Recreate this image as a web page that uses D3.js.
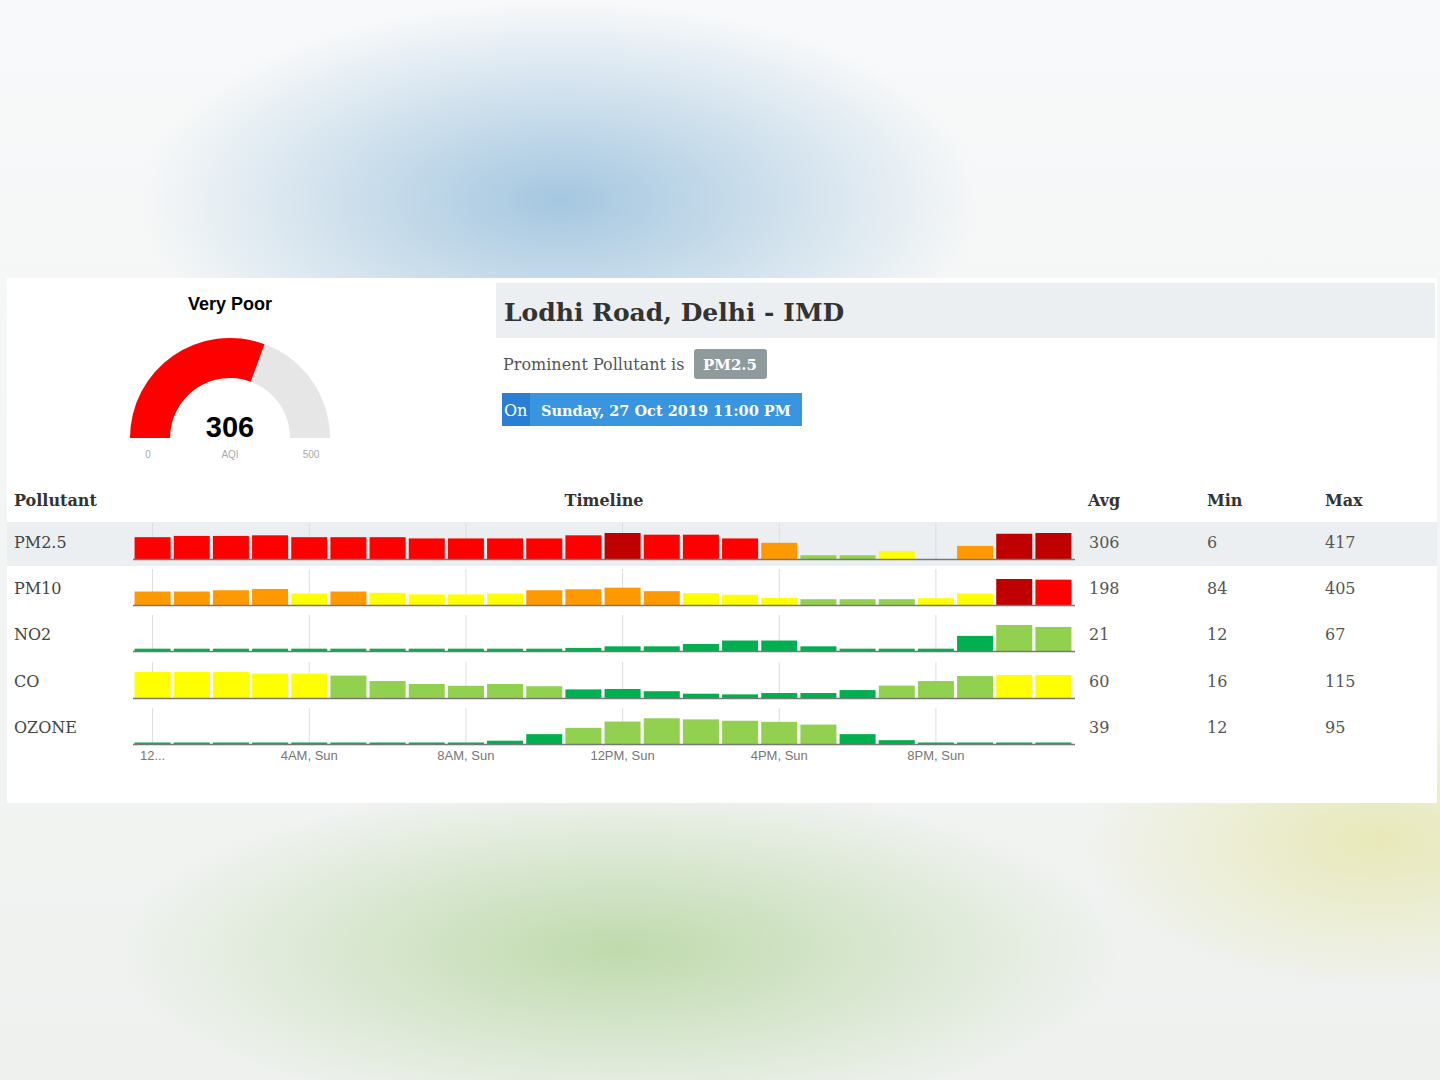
<!DOCTYPE html>
<html><head><meta charset="utf-8">
<script src="https://cdn.jsdelivr.net/npm/d3@7"></script>
<style>
body{margin:0;width:1440px;height:1080px;overflow:hidden;
background:
 radial-gradient(ellipse 420px 200px at 560px 200px, rgba(150,190,220,0.85), rgba(255,255,255,0) 100%),
 radial-gradient(ellipse 500px 170px at 620px 950px, rgba(175,210,150,0.75), rgba(255,255,255,0) 100%),
 radial-gradient(ellipse 300px 150px at 1380px 840px, rgba(230,230,170,0.8), rgba(255,255,255,0) 100%),
 linear-gradient(#f8f9fa,#eef1ee);}
</style></head>
<body><svg id="chart" width="1440" height="1080"></svg>
<script>
(function () {
    'use strict';
    var hours = d3.range(24);
    var tickHours = [0, 4, 8, 12, 16, 20];
    var tickLabels = ['12...', '4AM, Sun', '8AM, Sun', '12PM, Sun', '4PM, Sun', '8PM, Sun'];
    var pollutants = ['PM2.5', 'PM10', 'NO2', 'CO', 'OZONE'];
    var avgVals = [306, 198, 21, 60, 39];
    var minVals = [6, 84, 12, 16, 12];
    var maxVals = [417, 405, 67, 115, 95];
    var pm25 = [350, 370, 370, 380, 350, 350, 350, 330, 330, 330, 330, 380, 417, 390, 390, 330, 260, 60, 60, 130, 0, 210, 405, 417];
    var pm10 = [210, 210, 230, 250, 180, 210, 190, 165, 165, 180, 230, 245, 270, 215, 185, 160, 110, 90, 90, 90, 105, 180, 405, 395];
    var no2 = [6, 6, 6, 6, 6, 6, 6, 6, 6, 6, 6, 8, 12, 12, 18, 27, 27, 12, 6, 6, 6, 39, 67, 62];
    var co = [115, 115, 115, 108, 108, 99, 75, 62, 54, 62, 52, 38, 40, 30, 19, 16, 22, 22, 35, 55, 75, 97, 102, 102];
    var ozone = [5, 5, 5, 5, 5, 5, 5, 5, 5, 12, 36, 59, 82, 94, 90, 85, 81, 71, 36, 14, 5, 5, 5, 5];
    var series = [pm25, pm10, no2, co, ozone];
    var aqi = 306, aqiMax = 500, aqiStatus = 'Very Poor';

    var catLimits = [50, 100, 200, 300, 400];
    var catColors = ['#00b050', '#92d050', '#ffff00', '#ff9900', '#ff0000', '#c00000'];
    var colorOf = d3.scaleThreshold().domain(catLimits.map(function (d) { return d + 0.5; })).range(catColors);

    var svg = d3.select('#chart');
    var serif = 'font-family: "DejaVu Serif", "Liberation Serif", serif;';
    var sans = 'font-family: "Liberation Sans", Arial, sans-serif;';

    svg.append('rect').attr('x', 7).attr('y', 278).attr('width', 1430).attr('height', 525).attr('fill', '#fff');
    svg.append('rect').attr('x', 7).attr('y', 522).attr('width', 1430).attr('height', 44).attr('fill', '#eceff1');

    //gauge
    var gx = 230, gy = 438;
    var ang = d3.scaleLinear().domain([0, aqiMax]).range([-Math.PI / 2, Math.PI / 2]);
    var arc = d3.arc().innerRadius(60).outerRadius(100);
    svg.append('path').attr('transform', 'translate(' + gx + ',' + gy + ')')
        .attr('d', arc({startAngle: ang(0), endAngle: ang(aqiMax)})).attr('fill', '#e6e6e6');
    svg.append('path').attr('transform', 'translate(' + gx + ',' + gy + ')')
        .attr('d', arc({startAngle: ang(0), endAngle: ang(aqi)})).attr('fill', '#ff0000');
    svg.append('text').attr('x', gx).attr('y', 310).text(aqiStatus)
        .attr('style', sans + 'font-size: 18px; font-weight: bold; text-anchor: middle');
    svg.append('text').attr('x', gx).attr('y', 437).text(aqi)
        .attr('style', sans + 'font-size: 29px; font-weight: bold; text-anchor: middle');
    [[148, '0'], [230, 'AQI'], [311, '500']].forEach(function (l) {
        svg.append('text').attr('x', l[0]).attr('y', 458).text(l[1])
            .attr('style', sans + 'font-size: 10px; fill: #aaa; text-anchor: middle');
    });

    //header
    svg.append('rect').attr('x', 496).attr('y', 283).attr('width', 939).attr('height', 55).attr('fill', '#eceff1');
    svg.append('text').attr('x', 504).attr('y', 321).text('Lodhi Road, Delhi - IMD')
        .attr('style', serif + 'font-size: 25px; font-weight: bold; fill: #333');
    svg.append('text').attr('x', 503).attr('y', 370).text('Prominent Pollutant is')
        .attr('style', serif + 'font-size: 16px; fill: #555');
    svg.append('rect').attr('x', 694).attr('y', 349).attr('width', 73).attr('height', 30).attr('rx', 3).attr('fill', '#8f9a9c');
    svg.append('text').attr('x', 730).attr('y', 370).text('PM2.5')
        .attr('style', serif + 'font-size: 15px; font-weight: bold; fill: #fff; text-anchor: middle');
    svg.append('rect').attr('x', 502).attr('y', 393).attr('width', 300).attr('height', 33).attr('fill', '#3a95e0');
    svg.append('rect').attr('x', 502).attr('y', 393).attr('width', 28).attr('height', 33).attr('fill', '#2a7fd4');
    svg.append('text').attr('x', 504).attr('y', 416).text('On')
        .attr('style', serif + 'font-size: 16px; fill: #fff');
    svg.append('text').attr('x', 541).attr('y', 416).text('Sunday, 27 Oct 2019 11:00 PM')
        .attr('style', serif + 'font-size: 14.5px; font-weight: bold; fill: #fff');

    //table headers
    [[14, 'Pollutant', 'start'], [604, 'Timeline', 'middle'], [1088, 'Avg', 'start'], [1207, 'Min', 'start'], [1325, 'Max', 'start']].forEach(function (h) {
        svg.append('text').attr('x', h[0]).attr('y', 506).text(h[1])
            .attr('style', serif + 'font-size: 16px; font-weight: bold; fill: #333; text-anchor: ' + h[2]);
    });

    var x = d3.scaleBand().domain(hours).range([133, 1073]).paddingInner(0.08).paddingOuter(0.04);
    var baselines = [559, 605, 651, 698, 744];
    var barH = 26;

    series.forEach(function (vals, r) {
        var base = baselines[r];
        var y = d3.scaleLinear().domain([0, maxVals[r]]).range([base, base - barH]);
        var g = svg.append('g');
        tickHours.forEach(function (t) {
            g.append('line').attr('x1', x(t) + x.bandwidth() / 2).attr('x2', x(t) + x.bandwidth() / 2)
                .attr('y1', base - 36).attr('y2', base).attr('stroke', '#ddd');
        });
        g.selectAll('rect.bar').data(vals).enter().append('rect')
            .attr('x', function (d, i) { return x(i); })
            .attr('width', x.bandwidth())
            .attr('y', function (d) { return Math.min(y(d), base - 1.5); })
            .attr('height', function (d) { return d > 0 ? Math.max(base - y(d), 1.5) : 0; })
            .attr('fill', function (d) { return colorOf(d); });
        g.append('line').attr('x1', 133).attr('x2', 1075).attr('y1', base + 0.5).attr('y2', base + 0.5)
            .attr('stroke', '#777').attr('stroke-width', 1.5);
        var ty = base - 11;
        svg.append('text').attr('x', 14).attr('y', ty).text(pollutants[r])
            .attr('style', serif + 'font-size: 16px; fill: #444');
        [[1089, avgVals[r]], [1207, minVals[r]], [1325, maxVals[r]]].forEach(function (c) {
            svg.append('text').attr('x', c[0]).attr('y', ty).text(c[1])
                .attr('style', serif + 'font-size: 16px; fill: #555');
        });
    });

    tickHours.forEach(function (t, i) {
        svg.append('text').attr('x', x(t) + x.bandwidth() / 2).attr('y', 760).text(tickLabels[i])
            .attr('style', sans + 'font-size: 13px; fill: #777; text-anchor: middle');
    });
})();
</script></body></html>
